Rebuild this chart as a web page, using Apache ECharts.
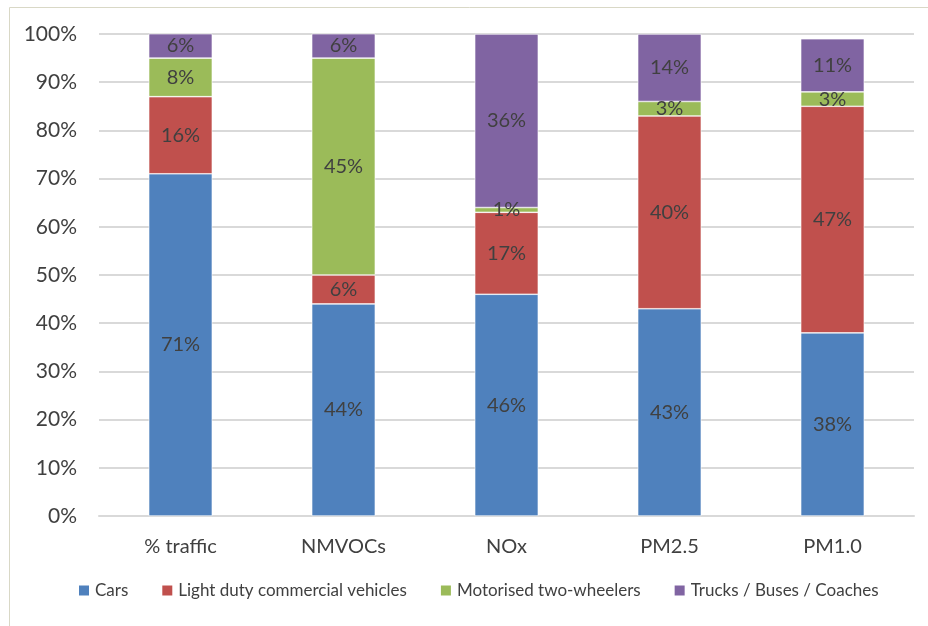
<!DOCTYPE html>
<html>
<head>
<meta charset="utf-8">
<script src="https://cdn.jsdelivr.net/npm/echarts@6/dist/echarts.min.js"></script>
<style>
  html, body { margin: 0; padding: 0; background: #fff; }
  #chart { width: 928px; height: 626px; }
</style>
</head>
<body>
<div id="chart"></div>
<script>
// Share of road-transport emissions by vehicle type (percent)
const categories = ['% traffic', 'NMVOCs', 'NOx', 'PM2.5', 'PM1.0'];
const cars = [71, 44, 46, 43, 38];
const lightDuty = [16, 6, 17, 40, 47];
const twoWheelers = [8, 45, 1, 3, 3];
const trucks = [6, 6, 36, 14, 11];
const yTicks = [0, 10, 20, 30, 40, 50, 60, 70, 80, 90, 100];

const seriesNames = ['Cars', 'Light duty commercial vehicles', 'Motorised two-wheelers', 'Trucks / Buses / Coaches'];
const colors = ['#4F81BD', '#C0504D', '#9BBB59', '#8064A2'];
const FONT = 'Lato, "Open Sans", sans-serif';
const TEXT = '#404040';

function makeSeries(name, values, color) {
  return {
    name: name,
    type: 'bar',
    stack: 'total',
    barWidth: '39%',
    data: values,
    itemStyle: { color: color, borderColor: '#ffffff', borderWidth: 0.6 },
    label: {
      show: true,
      position: 'inside',
      formatter: '{c}%',
      color: TEXT,
      fontFamily: FONT,
      fontSize: 20
    }
  };
}

const chart = echarts.init(document.getElementById('chart'), null, { renderer: 'canvas' });
chart.setOption({
  animation: false,
  backgroundColor: '#ffffff',
  color: colors,
  graphic: [{
    type: 'rect',
    shape: { x: 9.5, y: 7.5, width: 940, height: 640 },
    style: { fill: 'none', stroke: '#D9D8C6', lineWidth: 1 },
    z: -1
  }],
  grid: { left: 99, right: 14, top: 34, bottom: 110, containLabel: false },
  legend: {
    bottom: 22,
    left: 72,
    itemWidth: 12,
    itemHeight: 12,
    itemGap: 32,
    icon: 'rect',
    textStyle: { color: TEXT, fontFamily: FONT, fontSize: 17 },
    data: seriesNames
  },
  xAxis: {
    type: 'category',
    data: categories,
    axisLine: { show: true, lineStyle: { color: '#D9D9D9', width: 2 } },
    axisTick: { show: false },
    axisLabel: { color: TEXT, fontFamily: FONT, fontSize: 20, margin: 21 }
  },
  yAxis: {
    type: 'value',
    min: yTicks[0],
    max: yTicks[yTicks.length - 1],
    interval: 10,
    axisLine: { show: false },
    axisTick: { show: false },
    splitLine: { lineStyle: { color: '#D9D9D9', width: 2 } },
    axisLabel: { color: TEXT, fontFamily: FONT, fontSize: 21, margin: 22, formatter: '{value}%' }
  },
  series: [
    makeSeries(seriesNames[0], cars, colors[0]),
    makeSeries(seriesNames[1], lightDuty, colors[1]),
    makeSeries(seriesNames[2], twoWheelers, colors[2]),
    makeSeries(seriesNames[3], trucks, colors[3])
  ]
});
</script>
</body>
</html>
